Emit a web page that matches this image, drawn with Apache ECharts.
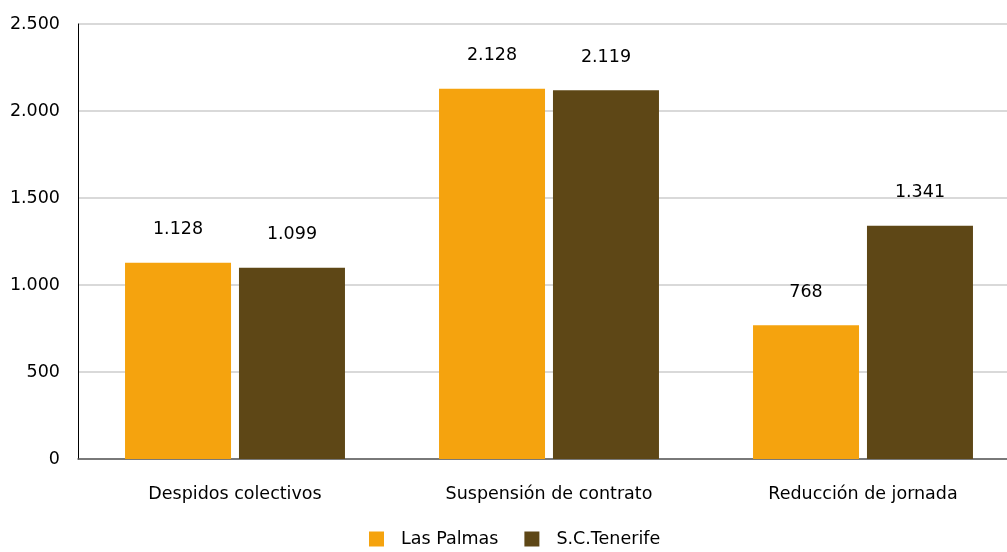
<!DOCTYPE html>
<html><head><meta charset="utf-8">
<script src="https://cdn.jsdelivr.net/npm/echarts@6/dist/echarts.min.js"></script>
<style>html,body{margin:0;padding:0;background:#fff;overflow:hidden;width:1007px;height:552px}#c{width:1020px;height:552px}</style>
</head><body><div id="c"></div>
<script>
const categories = ["Despidos colectivos", "Suspensión de contrato", "Reducción de jornada"];
const lasPalmas = [1128, 2128, 768];
const tenerife = [1099, 2119, 1341];
const seriesNames = ["Las Palmas", "S.C.Tenerife"];

function fmt(v){ return String(v).replace(/\B(?=(\d{3})+(?!\d))/g, "."); }
const FONT = "DejaVu Sans";
const FS = 17.5;
const chart = echarts.init(document.getElementById('c'));
const labelCfg = {show:true, position:'top', distance:24, color:'#000', fontFamily:FONT, fontSize:FS,
  formatter: p => fmt(p.value)};
chart.setOption({
  animation:false,
  textStyle:{fontFamily:FONT},
  grid:{left:78, right:0, top:24, bottom:93, containLabel:false},
  legend:{bottom:-1, left:364, itemWidth:15, itemHeight:15, itemGap:26,
    icon:'rect', textStyle:{fontFamily:FONT, fontSize:FS, color:'#000', padding:[0,0,0,12]},
    data:seriesNames},
  xAxis:{type:'category', data:categories,
    axisLine:{lineStyle:{color:'#595959', width:1.5}}, axisTick:{show:false},
    axisLabel:{color:'#000', fontFamily:FONT, fontSize:FS, margin:26}},
  yAxis:{type:'value', min:0, max:2500, interval:500,
    axisLine:{show:true, lineStyle:{color:'#000'}}, axisTick:{show:false},
    splitLine:{lineStyle:{color:'#d9d9d9', width:2}},
    axisLabel:{color:'#000', fontFamily:FONT, fontSize:FS, margin:18, formatter:v=>fmt(v)}},
  series:[
    {name:seriesNames[0], type:'bar', data:lasPalmas, barWidth:106, barGap:'7.5%',
      itemStyle:{color:'#F5A30E'}, label:labelCfg},
    {name:seriesNames[1], type:'bar', data:tenerife, barWidth:106,
      itemStyle:{color:'#5E4716'}, label:labelCfg}
  ]
});
</script></body></html>
